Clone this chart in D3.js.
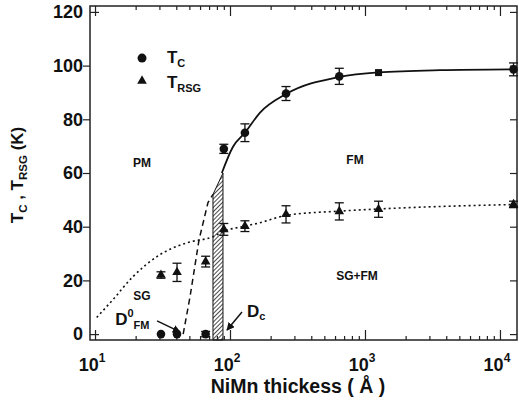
<!DOCTYPE html>
<html lang="en">
<head>
    <meta charset="UTF-8">
    <title>Tc, TRSG vs NiMn thickness</title>
    <script src="https://cdnjs.cloudflare.com/ajax/libs/d3/7.8.5/d3.min.js"></script>
    <style>
        body { margin: 0; background: white; }
        svg text { font-family: "Liberation Sans", Arial, sans-serif; font-weight: bold; fill: #111; }
    </style>
</head>
<body>
<div id="chart"></div>
<script>
    // measured points
    const tcX = [30.8, 40.5, 66, 90, 129, 260, 645, 12600];
    const tcY = [0, 0, 0, 69, 75, 89.6, 96, 98.6];
    const tcErr = [0, 0, 1, 1.7, 3.3, 2.6, 3, 2.4];
    const sqX = [1260];
    const sqY = [97.4];

    const rsgX = [30.8, 40.5, 66, 90, 129, 260, 645, 1260, 12600];
    const rsgY = [22, 23, 27, 39, 40.2, 44.6, 45.7, 46.5, 48.3];
    const rsgErr = [1.2, 3.4, 2, 2.2, 2, 3.2, 3.2, 3, 1.2];

    // guide curves
    const fitX = [87, 105, 129, 167, 260, 645, 1260, 3600, 13300];
    const fitY = [60, 69.7, 75, 82.5, 89.4, 95.8, 97.5, 98.3, 98.6];
    const dotX = [10.3, 13.6, 19.1, 30.3, 47.9, 74.8, 90, 129, 167, 260, 645, 1260, 13300];
    const dotY = [6.2, 12.9, 21.4, 29.6, 34, 36.3, 38.3, 40.2, 41.5, 44.2, 45.8, 46.6, 48.3];
    const dashX = [45, 50.6, 58.9, 68.7, 74.8];
    const dashY = [0, 14, 35, 49, 52];
    const hatchX = [74.8, 88.7];
    const hatchTop = [52, 60];

    const yTicks = [0, 20, 40, 60, 80, 100, 120];
    const xMajor = [1, 2, 3, 4];

    const width = 519, height = 407;
    const mLeft = 90, mRight = 517, mTop = 6, mBottom = 340;

    const svg = d3.select('#chart').append('svg')
        .attr('width', width).attr('height', height);

    const x = d3.scaleLog().domain([9.18, 13370]).range([mLeft, mRight]);
    const y = d3.scaleLinear().domain([-2.2, 122.2]).range([mBottom, mTop]);

    // hatch pattern
    const defs = svg.append('defs');
    const pat = defs.append('pattern')
        .attr('id', 'hatch').attr('patternUnits', 'userSpaceOnUse')
        .attr('width', 3).attr('height', 3)
        .attr('patternTransform', 'rotate(45)');
    pat.append('rect').attr('width', 3).attr('height', 3).attr('fill', 'white');
    pat.append('line').attr('x1', 0).attr('y1', 0).attr('x2', 0).attr('y2', 3)
        .attr('stroke', '#111').attr('stroke-width', 1.5);

    svg.append('path')
        .attr('d', `M${x(hatchX[0])},${mBottom}L${x(hatchX[0])},${y(hatchTop[0])}L${x(hatchX[1])},${y(hatchTop[1])}L${x(hatchX[1])},${mBottom}Z`)
        .attr('fill', 'url(#hatch)').attr('stroke', '#111').attr('stroke-width', 1);

    // frame
    svg.append('rect').attr('x', mLeft).attr('y', mTop)
        .attr('width', mRight - mLeft).attr('height', mBottom - mTop)
        .attr('fill', 'none').attr('stroke', '#222').attr('stroke-width', 1.5);

    // x ticks
    const minor = [];
    for (let e = 1; e <= 4; e++) for (let k = 1; k <= 9; k++) {
        const v = k * Math.pow(10, e);
        if (v >= 9.18 && v <= 13370) minor.push(v);
    }
    const isMajor = d => Math.abs(Math.log10(d) - Math.round(Math.log10(d))) < 1e-9;
    const axB = d3.axisBottom(x).tickValues(minor).tickFormat('')
        .tickSizeOuter(0).tickSizeInner(0);
    const gB = svg.append('g').attr('transform', `translate(0,${mBottom})`).call(axB);
    gB.select('.domain').remove();
    gB.selectAll('.tick line').attr('y2', d => isMajor(d) ? -10 : -4)
        .attr('stroke', '#222').attr('stroke-width', 1.2);
    const gT = svg.append('g').attr('transform', `translate(0,${mTop})`).call(axB);
    gT.select('.domain').remove();
    gT.selectAll('.tick line').attr('y2', d => isMajor(d) ? 10 : 4)
        .attr('stroke', '#222').attr('stroke-width', 1.2);

    // x tick labels with exponent
    const xl = svg.append('g').selectAll('text').data(xMajor).join('text')
        .attr('x', d => x(Math.pow(10, d)) - 3).attr('y', 371)
        .attr('text-anchor', 'middle').attr('font-size', 18);
    xl.append('tspan').text('10');
    xl.append('tspan').attr('font-size', 12).attr('dy', -9).text(d => d);

    // y ticks: outward left, inward right
    const axL = d3.axisLeft(y).tickValues(yTicks).tickSizeOuter(0).tickSize(7).tickPadding(2);
    const gL = svg.append('g').attr('transform', `translate(${mLeft},0)`).call(axL);
    gL.select('.domain').remove();
    gL.selectAll('.tick line').attr('stroke', '#222').attr('stroke-width', 1.2)
        .attr('x2', d => (d === 0 || d === 120) ? 9 : -7);
    gL.selectAll('.tick text').attr('font-size', 18).attr('x', -7)
        .style('font-family', '"Liberation Sans", Arial, sans-serif').style('font-weight', 'bold').attr('fill', '#111');
    const axR = d3.axisRight(y).tickValues(yTicks).tickFormat('').tickSizeOuter(0).tickSize(-7);
    const gR = svg.append('g').attr('transform', `translate(${mRight},0)`).call(axR);
    gR.select('.domain').remove();
    gR.selectAll('.tick line').attr('stroke', '#222').attr('stroke-width', 1.2);

    // curves
    const line = d3.line().x(d => x(d[0])).y(d => y(d[1])).curve(d3.curveMonotoneX);
    svg.append('path').datum(d3.zip(fitX, fitY)).attr('d', line)
        .attr('fill', 'none').attr('stroke', '#111').attr('stroke-width', 1.8);
    svg.append('path').datum(d3.zip(dotX, dotY)).attr('d', line)
        .attr('fill', 'none').attr('stroke', '#111').attr('stroke-width', 1.6)
        .attr('stroke-dasharray', '2,3');
    svg.append('path').datum(d3.zip(dashX, dashY))
        .attr('d', d3.line().x(d => x(d[0])).y(d => y(d[1])))
        .attr('fill', 'none').attr('stroke', '#111').attr('stroke-width', 1.5)
        .attr('stroke-dasharray', '6,4');

    // error bars
    function errBars(xs, ys, es) {
        const g = svg.append('g').attr('stroke', '#111').attr('stroke-width', 1.3);
        xs.forEach((v, i) => {
            if (!es[i]) return;
            const cx = x(v), y1 = y(ys[i] - es[i]), y2 = y(ys[i] + es[i]);
            g.append('line').attr('x1', cx).attr('x2', cx).attr('y1', y1).attr('y2', y2);
            g.append('line').attr('x1', cx - 4.5).attr('x2', cx + 4.5).attr('y1', y1).attr('y2', y1);
            g.append('line').attr('x1', cx - 4.5).attr('x2', cx + 4.5).attr('y1', y2).attr('y2', y2);
        });
    }
    errBars(tcX, tcY, tcErr);
    errBars(rsgX, rsgY, rsgErr);

    // markers
    svg.append('g').selectAll('circle').data(d3.zip(tcX, tcY)).join('circle')
        .attr('cx', d => x(d[0])).attr('cy', d => y(d[1])).attr('r', 4.3).attr('fill', '#111');
    svg.append('g').selectAll('rect').data(d3.zip(sqX, sqY)).join('rect')
        .attr('x', d => x(d[0]) - 3.5).attr('y', d => y(d[1]) - 3.5)
        .attr('width', 7).attr('height', 7).attr('fill', '#111');
    const tri = d3.symbol().type(d3.symbolTriangle).size(40);
    svg.append('g').selectAll('path').data(d3.zip(rsgX, rsgY)).join('path')
        .attr('transform', d => `translate(${x(d[0])},${y(d[1])})`)
        .attr('d', tri).attr('fill', '#111');

    // legend
    svg.append('circle').attr('cx', x(22.3)).attr('cy', y(102.8)).attr('r', 4.5).attr('fill', '#111');
    svg.append('path').attr('transform', `translate(${x(22.3)},${y(94.3)})`).attr('d', tri).attr('fill', '#111');
    const lg1 = svg.append('text').attr('x', x(34.1)).attr('y', y(101)).attr('font-size', 17);
    lg1.append('tspan').text('T');
    lg1.append('tspan').attr('font-size', 11).attr('dy', 4).text('C');
    const lg2 = svg.append('text').attr('x', x(34.1)).attr('y', y(91.6)).attr('font-size', 17);
    lg2.append('tspan').text('T');
    lg2.append('tspan').attr('font-size', 11).attr('dy', 4).text('RSG');

    // region labels
    const regions = [['PM', 22.3, 62.3], ['FM', 843, 63.4], ['SG+FM', 873, 20.2], ['SG', 22.3, 12.7]];
    svg.append('g').selectAll('text').data(regions).join('text')
        .attr('x', d => x(d[1])).attr('y', d => y(d[2]))
        .attr('text-anchor', 'middle').attr('font-size', 12).text(d => d[0]);

    // D0FM and Dc with arrows
    const dfm = svg.append('text').attr('x', x(14.1)).attr('y', y(3.4)).attr('font-size', 17);
    dfm.append('tspan').text('D');
    dfm.append('tspan').attr('font-size', 11).attr('dy', -8).text('0');
    dfm.append('tspan').attr('font-size', 11).attr('dy', 12).text('FM');
    const dc = svg.append('text').attr('x', x(133.6)).attr('y', y(6.4)).attr('font-size', 17);
    dc.append('tspan').text('D');
    dc.append('tspan').attr('font-size', 11).attr('dy', 3).text('c');

    defs.append('marker').attr('id', 'arr')
        .attr('viewBox', '0 0 10 10').attr('refX', 9).attr('refY', 5)
        .attr('markerWidth', 8).attr('markerHeight', 8).attr('markerUnits', 'userSpaceOnUse')
        .attr('orient', 'auto')
        .append('path').attr('d', 'M0,0L10,5L0,10Z').attr('fill', '#111');
    const arrows = [[28.8, 4.9, 42.6, 0.8], [122.7, 8.2, 95, 1.5]];
    svg.append('g').selectAll('line').data(arrows).join('line')
        .attr('x1', d => x(d[0])).attr('y1', d => y(d[1]))
        .attr('x2', d => x(d[2])).attr('y2', d => y(d[3]))
        .attr('stroke', '#111').attr('stroke-width', 1.5).attr('marker-end', 'url(#arr)');

    // axis titles
    svg.append('text').attr('x', 298).attr('y', 393)
        .attr('text-anchor', 'middle').attr('font-size', 19.5)
        .text('NiMn thickess ( Å )');
    const yt = svg.append('text').attr('transform', 'translate(23,175) rotate(-90)')
        .attr('text-anchor', 'middle').attr('font-size', 17);
    yt.append('tspan').text('T');
    yt.append('tspan').attr('font-size', 11.5).attr('dy', 4).text('C');
    yt.append('tspan').attr('dy', -4).text(' , T');
    yt.append('tspan').attr('font-size', 11.5).attr('dy', 4).text('RSG');
    yt.append('tspan').attr('dy', -4).text(' (K)');
</script>
</body>
</html>
